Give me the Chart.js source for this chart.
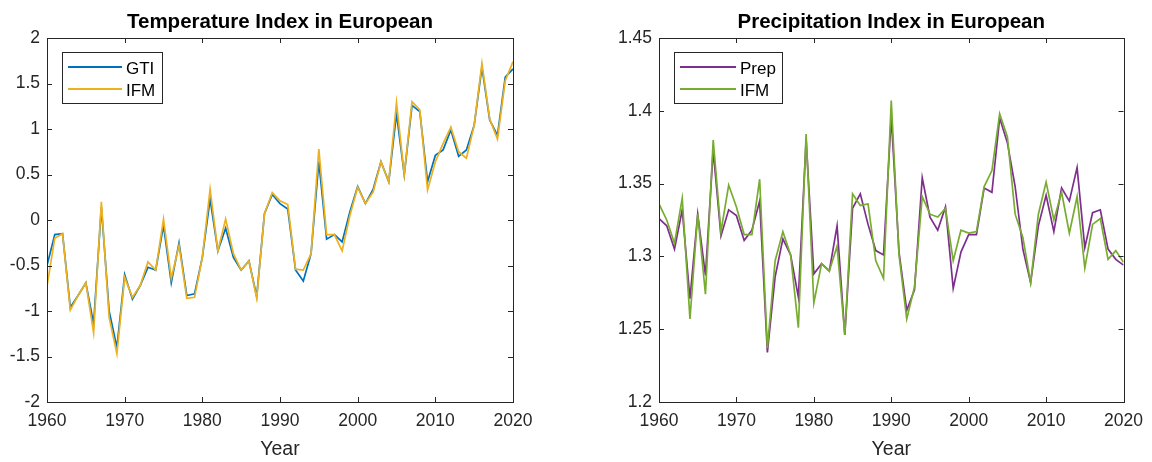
<!DOCTYPE html>
<html>
<head>
<meta charset="utf-8">
<script src="https://cdn.jsdelivr.net/npm/chart.js@4"></script>
<style>
  body { margin: 0; background: #fff; }
  #wrap { display: flex; width: 1152px; height: 462px; }
  canvas { display: block; }
</style>
</head>
<body>
<div id="wrap">
  <canvas id="temp" width="576" height="462"></canvas>
  <canvas id="prec" width="576" height="462"></canvas>
</div>
<script>
const years = [];
for (let y = 1960; y <= 2020; y++) years.push(y);

// temperature index (left panel)
const gti = [
  -0.50, -0.16, -0.15, -0.96, -0.83, -0.69, -1.14, 0.14, -1.00, -1.40,
  -0.60, -0.87, -0.72, -0.52, -0.55, -0.06, -0.69, -0.25, -0.83, -0.81,
  -0.41, 0.23, -0.34, -0.09, -0.41, -0.55, -0.45, -0.84, 0.07, 0.28,
  0.18, 0.12, -0.55, -0.67, -0.37, 0.64, -0.21, -0.16, -0.24, 0.09,
  0.37, 0.18, 0.34, 0.64, 0.42, 1.17, 0.50, 1.26, 1.19, 0.42,
  0.71, 0.77, 0.99, 0.70, 0.77, 1.04, 1.68, 1.10, 0.93, 1.57,
  1.66
];
const ifmTemp = [
  -0.73, -0.20, -0.15, -0.99, -0.83, -0.69, -1.24, 0.20, -1.07, -1.47,
  -0.63, -0.85, -0.72, -0.46, -0.55, 0.01, -0.64, -0.28, -0.86, -0.85,
  -0.41, 0.34, -0.34, 0.01, -0.37, -0.55, -0.45, -0.86, 0.07, 0.30,
  0.21, 0.17, -0.54, -0.55, -0.37, 0.78, -0.16, -0.16, -0.34, 0.05,
  0.36, 0.18, 0.31, 0.64, 0.42, 1.29, 0.50, 1.30, 1.21, 0.33,
  0.64, 0.84, 1.02, 0.75, 0.68, 1.04, 1.72, 1.11, 0.89, 1.53,
  1.74
];

// precipitation index (right panel)
const prep = [
  1.326, 1.321, 1.305, 1.332, 1.271, 1.329, 1.287, 1.373, 1.314, 1.332,
  1.328, 1.311, 1.318, 1.338, 1.234, 1.286, 1.312, 1.301, 1.272, 1.380,
  1.288, 1.295, 1.290, 1.321, 1.246, 1.333, 1.343, 1.322, 1.304, 1.301,
  1.396, 1.303, 1.263, 1.277, 1.354, 1.327, 1.318, 1.334, 1.278, 1.303,
  1.315, 1.315, 1.347, 1.344, 1.395, 1.378, 1.348, 1.305, 1.282, 1.321,
  1.342, 1.317, 1.347, 1.338, 1.361, 1.306, 1.330, 1.332, 1.305, 1.298,
  1.294
];
const ifmPrec = [
  1.336, 1.325, 1.309, 1.340, 1.257, 1.329, 1.274, 1.380, 1.317, 1.349,
  1.334, 1.315, 1.315, 1.353, 1.237, 1.297, 1.317, 1.301, 1.251, 1.384,
  1.268, 1.295, 1.290, 1.307, 1.246, 1.343, 1.335, 1.336, 1.297, 1.285,
  1.407, 1.301, 1.257, 1.279, 1.341, 1.329, 1.327, 1.333, 1.297, 1.318,
  1.316, 1.317, 1.348, 1.359, 1.398, 1.382, 1.329, 1.313, 1.282, 1.329,
  1.351, 1.325, 1.344, 1.316, 1.341, 1.292, 1.322, 1.326, 1.298, 1.304,
  1.296
];

const tempTicks = { min: -2, max: 2, step: 0.5 };
const precTicks = { min: 1.2, max: 1.45, step: 0.05 };

const AX = '#262626';
const FONT = '"Liberation Sans", Arial, Helvetica, sans-serif';

// MATLAB style box, inward ticks, title, legend
const matlabLook = {
  id: 'matlabLook',
  afterDraw(chart, args, opts) {
    const ctx = chart.ctx;
    const ca = chart.chartArea;
    const xs = chart.scales.x, ys = chart.scales.y;
    ctx.save();
    ctx.strokeStyle = AX;
    ctx.lineWidth = 1;
    ctx.strokeRect(Math.round(ca.left) + 0.5, Math.round(ca.top) + 0.5,
                   Math.round(ca.right - ca.left), Math.round(ca.bottom - ca.top));
    const tl = 5;
    ctx.beginPath();
    xs.ticks.forEach(t => {
      const px = Math.round(xs.getPixelForValue(t.value)) + 0.5;
      ctx.moveTo(px, ca.bottom); ctx.lineTo(px, ca.bottom - tl);
      ctx.moveTo(px, ca.top); ctx.lineTo(px, ca.top + tl);
    });
    ys.ticks.forEach(t => {
      const py = Math.round(ys.getPixelForValue(t.value)) + 0.5;
      ctx.moveTo(ca.left, py); ctx.lineTo(ca.left + tl, py);
      ctx.moveTo(ca.right, py); ctx.lineTo(ca.right - tl, py);
    });
    ctx.stroke();

    // title
    ctx.fillStyle = '#000';
    ctx.font = 'bold 20.5px ' + FONT;
    ctx.textAlign = 'center';
    ctx.textBaseline = 'alphabetic';
    ctx.fillText(opts.title, (ca.left + ca.right) / 2, 27.5);

    // legend
    const bx = ca.left + 15, by = ca.top + 14;
    ctx.fillStyle = '#fff';
    ctx.fillRect(bx, by, opts.boxW, 51);
    ctx.strokeStyle = AX;
    ctx.strokeRect(Math.round(bx) + 0.5, Math.round(by) + 0.5, opts.boxW, 51);
    ctx.font = '17px ' + FONT;
    ctx.textAlign = 'left';
    chart.data.datasets.forEach((ds, i) => {
      const ly = by + 15 + i * 22;
      ctx.strokeStyle = ds.borderColor;
      ctx.lineWidth = 2;
      ctx.beginPath();
      ctx.moveTo(bx + 6, ly); ctx.lineTo(bx + 6 + opts.lineW, ly);
      ctx.stroke();
      ctx.fillStyle = '#000';
      ctx.fillText(ds.label, bx + opts.lineW + 10, ly + 7);
    });
    ctx.restore();
  }
};

function fmt(v) { return String(Number(v.toFixed(2))); }

function makeChart(id, labels, series, ticks, pad, yWidth, title, boxW, lineW) {
  return new Chart(document.getElementById(id), {
    type: 'line',
    data: {
      datasets: series.map((s, i) => ({
        label: s.label,
        data: years.map((yr, k) => ({ x: yr, y: s.data[k] })),
        borderColor: s.color,
        borderWidth: 1.7,
        pointRadius: 0,
        tension: 0,
        fill: false,
        order: series.length - i
      }))
    },
    options: {
      responsive: false,
      animation: false,
      layout: { padding: pad },
      plugins: {
        legend: { display: false },
        tooltip: { enabled: false },
        matlabLook: { title, boxW, lineW }
      },
      scales: {
        x: {
          type: 'linear',
          min: 1960, max: 2020,
          grid: { display: false, drawTicks: false },
          border: { display: false },
          ticks: { stepSize: 10, color: AX, font: { family: FONT, size: 17.5 }, padding: 9,
                   callback: v => String(v), maxRotation: 0 },
          title: { display: true, text: 'Year', color: AX,
                   font: { family: FONT, size: 19.5 }, padding: { top: 0, bottom: 1 } },
          afterFit(s) { s.height = 60; }
        },
        y: {
          min: ticks.min, max: ticks.max,
          grid: { display: false, drawTicks: false },
          border: { display: false },
          ticks: { stepSize: ticks.step, color: AX, font: { family: FONT, size: 17.5 }, padding: 7,
                   callback: v => fmt(v) },
          afterFit(s) { s.width = yWidth; }
        }
      }
    },
    plugins: [matlabLook]
  });
}

makeChart('temp', years, [
  { label: 'GTI', data: gti, color: '#0072BD' },
  { label: 'IFM', data: ifmTemp, color: '#EDB120' }
], tempTicks, { top: 38, right: 63, left: 0, bottom: 0 }, 47,
  'Temperature Index in European', 100, 54);

makeChart('prec', years, [
  { label: 'Prep', data: prep, color: '#7E2F8E' },
  { label: 'IFM', data: ifmPrec, color: '#77AC30' }
], precTicks, { top: 38, right: 26, left: 0, bottom: 0 }, 83,
  'Precipitation Index in European', 108, 56);
</script>
</body>
</html>
